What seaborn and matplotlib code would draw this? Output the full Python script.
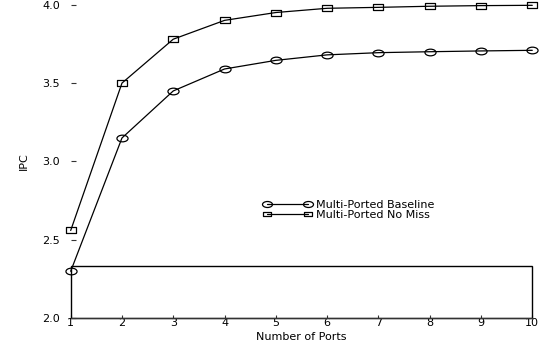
import matplotlib
matplotlib.use("Agg")
import matplotlib.pyplot as plt
from matplotlib.path import Path
from matplotlib.transforms import Affine2D
from matplotlib.patches import Rectangle
import numpy as np
import pandas as pd
import seaborn as sns

# ---- data ----
ports = [1, 2, 3, 4, 5, 6, 7, 8, 9, 10]
baseline_ipc = [2.30, 3.15, 3.45, 3.59, 3.645, 3.68, 3.694, 3.70, 3.705, 3.709]
nomiss_ipc = [2.56, 3.50, 3.78, 3.90, 3.95, 3.977, 3.983, 3.99, 3.994, 3.996]
series_names = ["Multi-Ported Baseline", "Multi-Ported No Miss"]
y_ticks = [2.0, 2.5, 3.0, 3.5, 4.0]
y_range = (2.0, 4.0)
box_top = 2.335
x_label = "Number of Ports"
y_label = "IPC"

df = pd.DataFrame({
    "ports": ports * 2,
    "ipc": baseline_ipc + nomiss_ipc,
    "series": [series_names[0]] * len(ports) + [series_names[1]] * len(ports),
})

sns.set_style("ticks")
plt.rcParams["font.family"] = ["DejaVu Sans"]
plt.rcParams["text.color"] = "black"
plt.rcParams["axes.labelcolor"] = "black"
plt.rcParams["xtick.labelcolor"] = "black"
plt.rcParams["ytick.labelcolor"] = "black"

fig = plt.figure(figsize=(5.4, 3.47), dpi=100)
ax = fig.add_axes([0.1309, 0.0827, 0.8548, 0.9038])

ellipse = Path.unit_circle().transformed(Affine2D().scale(1.0, 0.6))
rect = Path([(-1, -0.55), (1, -0.55), (1, 0.55), (-1, 0.55), (-1, -0.55)],
            [Path.MOVETO, Path.LINETO, Path.LINETO, Path.LINETO, Path.CLOSEPOLY])

sns.lineplot(data=df, x="ports", y="ipc", style="series", style_order=series_names,
             markers={series_names[0]: ellipse, series_names[1]: rect},
             dashes=False, color="black", linewidth=0.9,
             markersize=8, markeredgecolor="black", markerfacecolor="none",
             markeredgewidth=0.9, legend=False, ax=ax)

for ln in ax.lines:
    ln.set_clip_on(False)
ax.lines[1].set_markersize(7)

ax.add_patch(Rectangle((ports[0], y_range[0]), ports[-1] - ports[0], box_top - y_range[0],
                       fill=False, edgecolor="black", linewidth=1.0, clip_on=False))

ax.set_xlim(ports[0], ports[-1])
ax.set_ylim(*y_range)
ax.set_xticks(ports)
ax.set_xticklabels([str(p) for p in ports])
ax.set_yticks(y_ticks)
ax.set_yticklabels([f"{t:.1f}" for t in y_ticks])

for s in ["top", "right", "left"]:
    ax.spines[s].set_visible(False)
ax.spines["bottom"].set_linewidth(0.9)
ax.spines["bottom"].set_color("#333333")

ax.tick_params(axis="x", direction="in", length=2.5, width=0.8, pad=0, labelsize=8, color="#333333")
ax.tick_params(axis="y", direction="in", length=3.6, width=0.8, pad=7.7, labelsize=8, color="#333333")

ax.set_xlabel(x_label, fontsize=8)
ax.set_ylabel(y_label, fontsize=8)
ax.xaxis.set_label_coords(0.5, -0.0421)
ax.yaxis.set_label_coords(-0.0914, 0.5)

ax.legend(handles=ax.lines[:2], labels=series_names, loc="upper left",
          bbox_to_anchor=(0.4174, 0.3765), frameon=False, fontsize=8,
          numpoints=2, handlelength=4.3, handletextpad=0.4, labelspacing=0.0,
          borderpad=0, borderaxespad=0, markerscale=0.9)

fig.savefig("out.png", dpi=100)
